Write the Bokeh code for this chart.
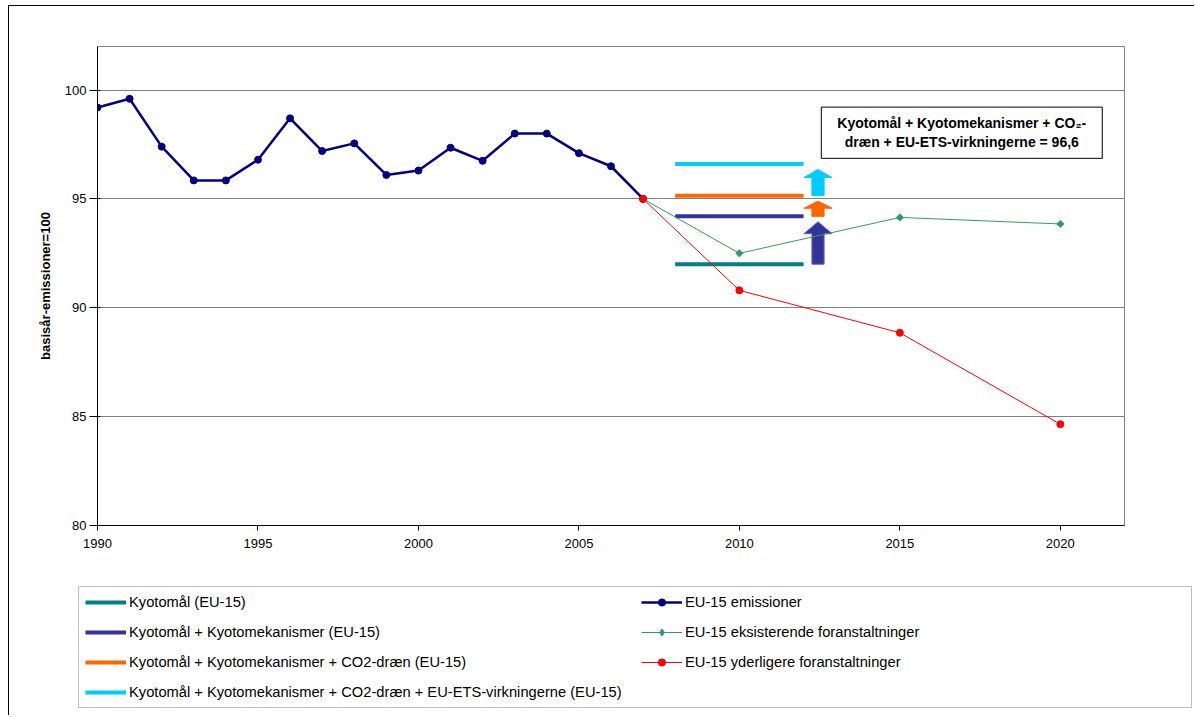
from bokeh.plotting import figure
from bokeh.models import Range1d, FixedTicker, Legend, LegendItem, Label
from bokeh.embed import file_html
from bokeh.resources import INLINE

# ---- data ----
hist_years = list(range(1990, 2008))
emissions = [99.2, 99.6, 97.4, 95.85, 95.85, 96.8, 98.7, 97.2, 97.55, 96.1,
             96.3, 97.35, 96.75, 98.0, 98.0, 97.1, 96.5, 95.0]
proj_years = [2007, 2010, 2015, 2020]
existing = [95.0, 92.5, 94.15, 93.85]
further = [95.0, 90.8, 88.85, 84.65]

target_names = ["Kyotomål (EU-15)",
                "Kyotomål + Kyotomekanismer (EU-15)",
                "Kyotomål + Kyotomekanismer + CO2-dræn (EU-15)",
                "Kyotomål + Kyotomekanismer + CO2-dræn + EU-ETS-virkningerne (EU-15)"]
target_levels = [92.0, 94.2, 95.15, 96.6]
target_period = [2008, 2012]
target_colors = ["#008080", "#333399", "#FF6600", "#00CCFF"]

series_names = ["EU-15 emissioner", "EU-15 eksisterende foranstaltninger",
                "EU-15 yderligere foranstaltninger"]
series_colors = ["#000080", "#339966", "#FF0000"]

x_ticks = [1990, 1995, 2000, 2005, 2010, 2015, 2020]
y_ticks = [80, 85, 90, 95, 100]

note_text = "Kyotomål + Kyotomekanismer + CO\u2082-\ndræn + EU-ETS-virkningerne = 96,6"

FONT = "Liberation Sans"

# ---------------- main chart ----------------
p = figure(width=1186, height=560, output_backend="svg", toolbar_location=None,
           x_range=Range1d(1990, 2022), y_range=Range1d(80, 102),
           min_border_left=88, min_border_top=40, min_border_right=71,
           min_border_bottom=41)
p.styles = {"border-top": "1px solid black", "border-left": "1px solid black",
            "margin-top": "5px", "margin-left": "8px"}

p.outline_line_color = "#808080"
p.xgrid.visible = False
p.ygrid.grid_line_color = "#808080"
p.ygrid.grid_line_width = 1
p.xaxis.ticker = FixedTicker(ticks=x_ticks)
p.yaxis.ticker = FixedTicker(ticks=y_ticks)
for ax in (p.xaxis, p.yaxis):
    ax.minor_tick_line_color = None
    ax.axis_line_color = "black"
    ax.major_tick_line_color = "black"
    ax.major_label_text_font = FONT
    ax.major_label_text_color = "black"
    ax.major_label_text_font_size = "13px"
p.xaxis.major_tick_out = 5
p.xaxis.major_tick_in = 0
p.xaxis.major_label_standoff = 8
p.yaxis.major_tick_out = 8
p.yaxis.major_tick_in = 3
p.yaxis.major_label_standoff = 3
p.yaxis.axis_label = "basisår-emissioner=100"
p.yaxis.axis_label_text_font = FONT
p.yaxis.axis_label_text_font_style = "bold"
p.yaxis.axis_label_text_font_size = "13px"
p.yaxis.axis_label_text_color = "black"
p.yaxis.axis_label_standoff = 9

# target level lines
for lvl, col in zip(target_levels, target_colors):
    p.segment(x0=[target_period[0]], y0=[lvl], x1=[target_period[1]], y1=[lvl],
              line_color=col, line_width=4)

# arrows between successive levels
ax_x = 2012.45
bw, hw, gap = 0.19, 0.44, 0.25
head_h = [0.55, 0.33, 0.37]
xs, ys = [], []
for i in range(3):
    base = target_levels[i]
    tip = target_levels[i + 1] - gap
    hb = tip - head_h[i]
    xs.append([ax_x - bw, ax_x - bw, ax_x - hw, ax_x, ax_x + hw, ax_x + bw, ax_x + bw])
    ys.append([base, hb, hb, tip, hb, hb, base])
p.patches(xs=xs, ys=ys, fill_color=target_colors[1:],
          line_color=["#6666bb", "#FF6600", "#00CCFF"], line_width=1)

# series
p.line(hist_years, emissions, line_color=series_colors[0], line_width=2.5)
p.scatter(hist_years, emissions, marker="circle", size=7,
          fill_color=series_colors[0], line_color=series_colors[0])
p.line(proj_years, existing, line_color=series_colors[1], line_width=1)
p.scatter(proj_years[1:], existing[1:], marker="square", angle=0.785, size=5,
          fill_color=series_colors[1], line_color=series_colors[1])
p.line(proj_years, further, line_color=series_colors[2], line_width=1)
p.scatter(proj_years, further, marker="circle", size=7,
          fill_color=series_colors[2], line_color=series_colors[2])

note = Label(x=2016.93, y=98.04, text=note_text, text_align="center", text_baseline="middle",
             text_font=FONT, text_font_style="bold", text_font_size="14px",
             text_color="black", border_line_color="black", border_line_width=1,
             background_fill_color="white", padding=(16, 8))
p.add_layout(note)

# ---------------- legend panel ----------------
lg = figure(width=1186, height=150, output_backend="svg", toolbar_location=None,
            x_range=Range1d(0, 1), y_range=Range1d(0, 1),
            x_axis_location=None, y_axis_location=None, min_border=0)
lg.styles = {"border-left": "1px solid black", "margin-left": "8px"}
lg.xgrid.visible = False
lg.ygrid.visible = False
lg.outline_line_color = None

# legend sample glyphs, placed outside the visible range
hidden_x = [-5, -4]
hidden_y = [-5, -5]
items = []
for n, col in zip(target_names, target_colors):
    r = lg.line(hidden_x, hidden_y, line_color=col, line_width=4)
    items.append(LegendItem(label=n, renderers=[r]))
markers = [("circle", 7, 2.5), ("diamond", 9, 1), ("circle", 7, 1)]
for n, col, (mk, sz, lw) in zip(series_names, series_colors, markers):
    rl = lg.line(hidden_x, hidden_y, line_color=col, line_width=lw)
    rm = lg.scatter(hidden_x, hidden_y, marker=mk, size=sz, fill_color=col, line_color=col)
    items.append(LegendItem(label=n, renderers=[rl, rm]))

legend = Legend(items=items, location=(69, 7), orientation="vertical", nrows=4,
                label_text_font=FONT, label_text_font_size="14.7px", label_text_color="black",
                glyph_width=41, glyph_height=18, label_height=18, label_standoff=3,
                label_width=500, spacing=12, padding=6, margin=0,
                border_line_color="#808080", border_line_width=1,
                background_fill_color="white", background_fill_alpha=1)
lg.add_layout(legend)

open("out.html", "w").write(file_html([p, lg], INLINE))
